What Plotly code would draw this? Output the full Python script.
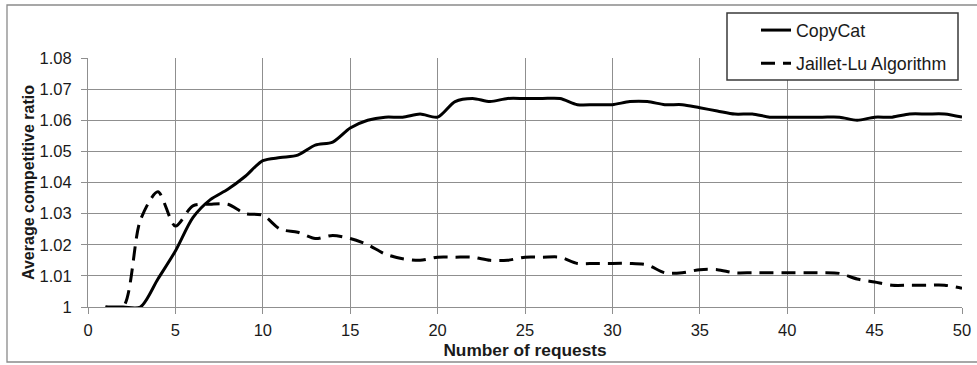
import plotly.graph_objects as go

# Number of requests (x) and average competitive ratio per algorithm
requests = list(range(1, 51))

copycat = [
    1.000, 1.000, 1.000, 1.009, 1.018, 1.0287, 1.0345, 1.0378, 1.042, 1.047,
    1.048, 1.0488, 1.052, 1.053, 1.0575, 1.060, 1.061, 1.061, 1.062, 1.061,
    1.066, 1.067, 1.066, 1.067, 1.067, 1.067, 1.067, 1.065, 1.065, 1.065,
    1.066, 1.066, 1.065, 1.065, 1.064, 1.063, 1.062, 1.062, 1.061, 1.061,
    1.061, 1.061, 1.061, 1.060, 1.061, 1.061, 1.062, 1.062, 1.062, 1.061,
]

jaillet_lu = [
    1.000, 1.000, 1.028, 1.037, 1.026, 1.0325, 1.033, 1.033, 1.030, 1.0295,
    1.025, 1.024, 1.022, 1.023, 1.022, 1.020, 1.017, 1.0155, 1.015, 1.016,
    1.016, 1.016, 1.015, 1.015, 1.016, 1.016, 1.016, 1.014, 1.014, 1.014,
    1.014, 1.0135, 1.011, 1.011, 1.012, 1.012, 1.011, 1.011, 1.011, 1.011,
    1.011, 1.011, 1.0108, 1.009, 1.008, 1.007, 1.007, 1.007, 1.007, 1.006,
]

series_names = ["CopyCat", "Jaillet-Lu Algorithm"]

x_ticks = [0, 5, 10, 15, 20, 25, 30, 35, 40, 45, 50]
y_ticks = [1.00, 1.01, 1.02, 1.03, 1.04, 1.05, 1.06, 1.07, 1.08]
y_tick_labels = ["1", "1.01", "1.02", "1.03", "1.04", "1.05", "1.06", "1.07", "1.08"]

W, H = 977, 365
ML, MR, MT, MB = 88, 15, 58, 58
PW, PH = W - ML - MR, H - MT - MB


def px_x(p):
    return (p - ML) / PW


def px_y(p):
    return (H - MB - p) / PH


FONT = "Liberation Sans, Arial, sans-serif"
GRID = "#8f8f8f"

fig = go.Figure()
fig.add_trace(go.Scatter(
    x=requests, y=copycat, name=series_names[0], mode="lines",
    line=dict(color="black", width=3, shape="spline", smoothing=0.8),
    legendgroup="a",
))
fig.add_trace(go.Scatter(
    x=requests, y=jaillet_lu, name=series_names[1], mode="lines",
    line=dict(color="black", width=3, dash="14px,8px", shape="spline", smoothing=0.8),
    legendgroup="b",
))

# outer chart frame and legend frame
fig.add_shape(type="rect", xref="paper", yref="paper",
              x0=px_x(7), x1=px_x(985), y0=px_y(362), y1=px_y(5),
              line=dict(color="#8a8a8a", width=1.3), layer="below")
fig.add_shape(type="rect", xref="paper", yref="paper",
              x0=px_x(727), x1=px_x(958), y0=px_y(80), y1=px_y(13),
              line=dict(color="#3a3a3a", width=1.5), fillcolor="white", layer="above")

fig.update_layout(
    width=W, height=H,
    margin=dict(l=ML, r=MR, t=MT, b=MB, autoexpand=False),
    paper_bgcolor="white", plot_bgcolor="white",
    font=dict(family=FONT, size=16, color="#1a1a1a"),
    showlegend=True,
    legend=dict(
        x=px_x(756), y=px_y(12), xanchor="left", yanchor="top",
        bgcolor="rgba(0,0,0,0)", borderwidth=0,
        font=dict(family=FONT, size=17.8, color="#1a1a1a"),
        tracegroupgap=7, traceorder="grouped",
    ),
    xaxis=dict(
        range=[0, 50], tickvals=x_ticks, showgrid=True, gridcolor=GRID, gridwidth=1,
        showline=True, linecolor=GRID, linewidth=1, zeroline=False,
        ticks="outside", ticklen=6, tickcolor=GRID, automargin=False,
        tickfont=dict(size=16.5), ticklabelstandoff=2,
        title=dict(text="<b>Number of requests</b>", font=dict(size=17.3), standoff=6),
    ),
    yaxis=dict(
        range=[1, 1.08], tickvals=y_ticks, ticktext=y_tick_labels,
        showgrid=True, gridcolor=GRID, gridwidth=1,
        showline=True, linecolor=GRID, linewidth=1, zeroline=False,
        ticks="outside", ticklen=6, tickcolor=GRID, automargin=False,
        tickfont=dict(size=16.5), ticklabelstandoff=6,
        title=dict(text="<b>Average competitive ratio</b>", font=dict(size=16), standoff=0),
    ),
)

fig.write_html("out.html")
